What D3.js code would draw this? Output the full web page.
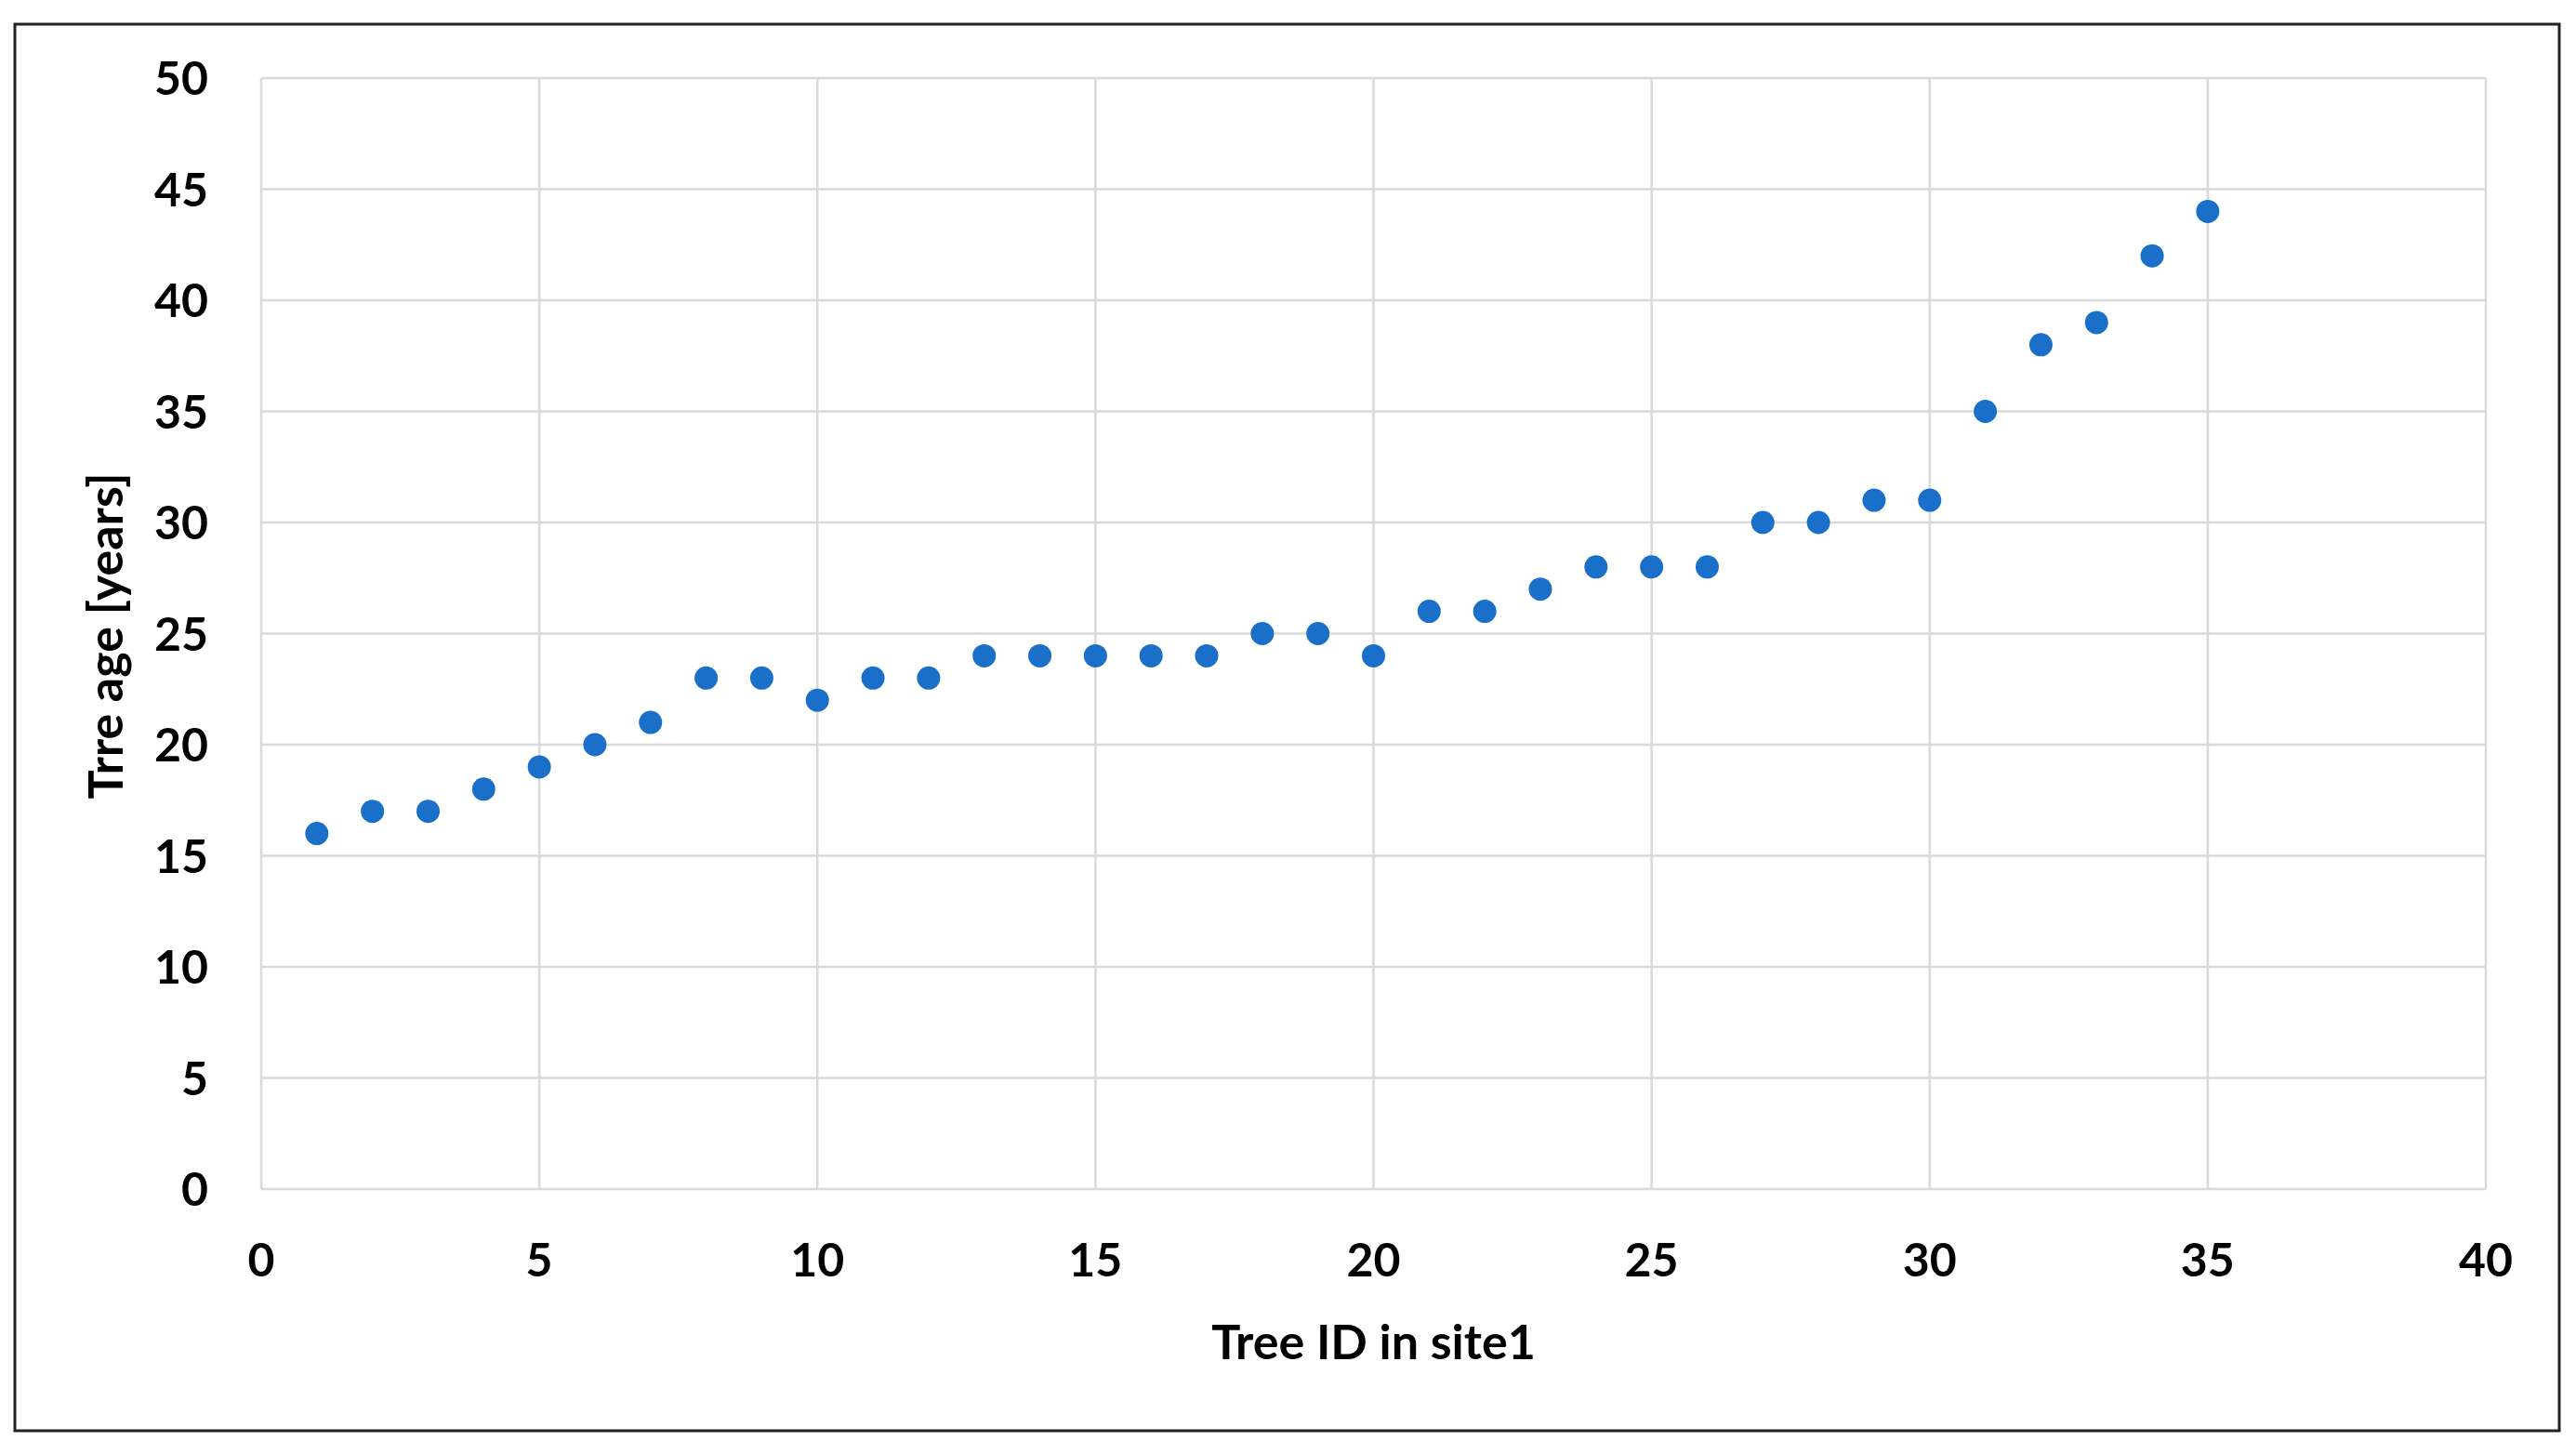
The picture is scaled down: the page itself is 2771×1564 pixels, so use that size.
<!DOCTYPE html>
<html><head><meta charset="utf-8">
<script src="https://cdn.jsdelivr.net/npm/d3@7"></script>
<style>body{margin:0;background:#fff}text{font-family:Lato,"Open Sans",sans-serif;font-weight:bold;fill:#000}</style>
</head><body>
<svg id="c" width="2771" height="1564"></svg>
<script>
const treeIds = d3.range(1, 36);
const treeAges = [16,17,17,18,19,20,21,23,23,22,23,23,24,24,24,24,24,25,25,24,26,26,27,28,28,28,30,30,31,31,35,38,39,42,44];
const xTicks = [0,5,10,15,20,25,30,35,40];
const yTicks = [0,5,10,15,20,25,30,35,40,45,50];

const svg = d3.select("#c");
svg.append("rect").attr("x",16).attr("y",26).attr("width",2737).attr("height",1513)
  .attr("fill","#fff").attr("stroke","#222").attr("stroke-width",3);
const L=281,R=2674,T=84,B=1279;
const x=d3.scaleLinear().domain([0,40]).range([L,R]);
const y=d3.scaleLinear().domain([0,50]).range([B,T]);
const g=svg.append("g");
g.selectAll(".gx").data(xTicks).join("line").attr("x1",d=>x(d)).attr("x2",d=>x(d)).attr("y1",T).attr("y2",B).attr("stroke","#d9d9d9").attr("stroke-width",2.5);
g.selectAll(".gy").data(yTicks).join("line").attr("y1",d=>y(d)).attr("y2",d=>y(d)).attr("x1",L).attr("x2",R).attr("stroke","#d9d9d9").attr("stroke-width",2.5);
g.selectAll(".ty").data(yTicks).join("text").attr("x",224).attr("y",d=>y(d)).attr("dy","0.36em").attr("text-anchor","end").attr("font-size",50).text(d=>d);
g.selectAll(".tx").data(xTicks).join("text").attr("x",d=>x(d)).attr("y",1373).attr("text-anchor","middle").attr("font-size",50).text(d=>d);
g.selectAll("circle").data(treeIds).join("circle").attr("cx",d=>x(d)).attr("cy",(d,i)=>y(treeAges[i])).attr("r",12.5).attr("fill","#1a6fc8");
svg.append("text").attr("x",x(20)).attr("y",1462).attr("text-anchor","middle").attr("font-size",52).text("Tree ID in site1");
svg.append("text").attr("transform","translate(132,684) rotate(-90)").attr("text-anchor","middle").attr("font-size",52).text("Trre age [years]");
</script></body></html>
